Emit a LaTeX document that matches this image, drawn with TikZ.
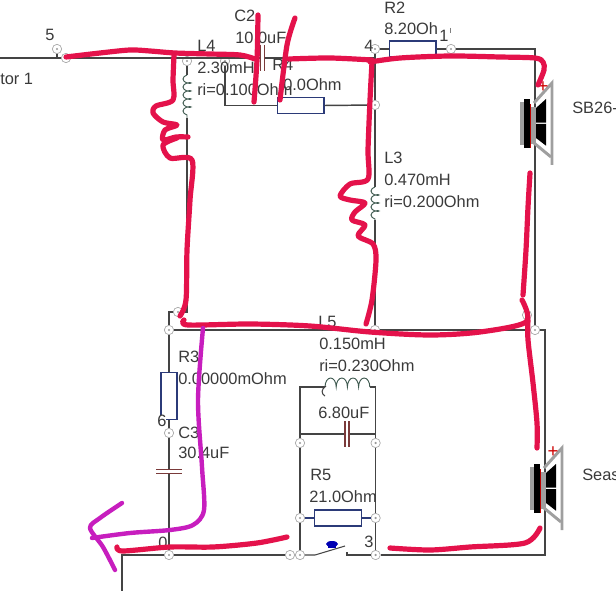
\documentclass[tikz,border=0pt]{standalone}
\usepackage{fontspec}
\setmainfont{Liberation Sans}
\usetikzlibrary{decorations.pathmorphing}
\definecolor{wirecol}{HTML}{444444}
\definecolor{rescol}{HTML}{2B3A78}
\definecolor{capcol}{HTML}{7A3A3A}
\definecolor{coilcol}{HTML}{3F5A50}
\definecolor{textcol}{HTML}{3A3A3A}
\definecolor{penred}{HTML}{E4124B}
\definecolor{penpurple}{HTML}{C71EBE}
\tikzset{
    wire/.style={draw=wirecol, line width=1.1pt},
    jn/.style={circle, draw=gray!70, fill=white, inner sep=0pt, minimum size=7pt, line width=0.5pt,
        path picture={\fill[gray!80] (path picture bounding box.center) circle (0.9pt);}},
    lbl/.style={anchor=west, inner sep=0pt, text=textcol, font=\fontsize{12.3}{14}\selectfont},
    res/.style={draw=rescol, line width=1pt, fill=white, inner sep=0pt, minimum width=35pt, minimum height=12pt},
    capv/.style={inner sep=0pt, minimum width=2.6pt, minimum height=19pt},
    caph/.style={inner sep=0pt, minimum width=19pt, minimum height=2.6pt},
    capline/.style={draw=capcol, line width=0.9pt},
    coilv/.style={draw=coilcol, line width=0.7pt, decorate,
        decoration={coil, aspect=0.5, segment length=6pt, amplitude=3pt, mirror}},
    pen/.style={draw=penred, line width=3.9pt, line cap=round, line join=round},
    penb/.style={draw=penpurple, line width=3.3pt, line cap=round, line join=round},
    speaker/.pic={
        \fill[gray!75] (-15,-22) rectangle (-11,21);
        \fill[gray!75] (-5,-17) rectangle (1,20);
        \fill[black] (-11,-25) rectangle (-5,24);
        \draw[red!75!black, line width=1pt] (-4.5,-20) -- (-4.5,24);
        \draw[gray!75, line width=2.2pt] (-1,-21) -- (17,-41) -- (17,41);
        \draw[gray!75, line width=2.2pt] (-1,19) -- (16,33);
        \fill[black] (1,-16) -- (11,-25) -- (11,-1.3) -- (1,-1.3) -- cycle;
        \fill[black] (1,0) -- (11,0) -- (11,21.7) -- (1,14) -- cycle;
        \node[inner sep=0pt, text=red!80!black, font=\fontsize{14}{14}\selectfont] (-plus) at (8,-37) {+};
    }
}
\begin{document}
\begin{tikzpicture}[x=0.75pt, y=-0.75pt]
    \useasboundingbox (0,0) rectangle (616,591);

    \coordinate (wl) at (0,58);
    \coordinate (gnd) at (122,591);
    \coordinate (gndc) at (122,555);
    \coordinate (tr) at (535,49);
    \coordinate (cbr) at (545,330);
    \coordinate (cbl) at (545,555);
    \coordinate (n4b) at (375,58);
    \coordinate (tl5) at (300,387);
    \coordinate (tr5) at (375.6,387);
    \coordinate (l5a) at (325,387);
    \coordinate (l5b) at (370,387);
    \coordinate (l4a) at (187,75);
    \coordinate (l4b) at (187,118);
    \coordinate (l3a) at (375,187);
    \coordinate (l3b) at (375,220);
    \coordinate (swa) at (315,555);
    \coordinate (swb) at (345,546);
    \coordinate (swc) at (347,552);
    \coordinate (swd) at (347,555);

    \node[jn] (n5) at (57,49) {};
    \node[jn] (n5b) at (66,58) {};
    \node[jn] (n6) at (187,61) {};
    \node[jn] (n6b) at (225,61) {};
    \node[jn] (n4) at (375,49) {};
    \node[jn] (n1) at (451,49) {};
    \node[jn] (n4c) at (375,105) {};
    \node[jn] (n7) at (178,312) {};
    \node[jn] (n8) at (169,330) {};
    \node[jn] (n9) at (375,330) {};
    \node[jn] (n10) at (535,330) {};
    \node[jn] (n11) at (527,315) {};
    \node[jn] (n12) at (169,433) {};
    \node[jn] (n0) at (169,555) {};
    \node[jn] (n13) at (290,555) {};
    \node[jn] (n14) at (300,555) {};
    \node[jn] (n15) at (300,443) {};
    \node[jn] (n16) at (375.6,443) {};
    \node[jn] (n17) at (300,518) {};
    \node[jn] (n18) at (375.6,518) {};
    \node[jn] (n3) at (375.6,555) {};

    \node[res] (R2) at (412.5,49) {};
    \node[res] (R4) at (300.5,105.5) {};
    \node[res] (R5) at (338,518) {};
    \node[res, minimum width=12pt, minimum height=35pt] (R3) at (169,396) {};
    \node[capv] (C2) at (262.5,58) {};
    \node[caph] (C3) at (169,471.5) {};
    \node[capv] (C5) at (347,434) {};

    \draw[wire] (wl) -- (n5b);
    \draw[wire] (n5) -- (n5 |- wl);
    \draw[wire] (n5b) -- (C2.west);
    \draw[wire] (C2.east) -- (n4b);
    \draw[wire] (n6) -- (l4a);
    \draw[wire] (l4b) |- (n7);
    \draw[wire] (n7) -| (n8);
    \draw[wire] (n6b) |- (R4.west);
    \draw[wire] (R4.east) -- (n4c);
    \draw[wire] (n4) -- (R2.west);
    \draw[wire] (R2.east) -- (n1);
    \draw[wire] (n1) -- (tr) -- (n10);
    \draw[wire] (n4) -- (n4c);
    \draw[wire] (n4c) -- (l3a);
    \draw[wire] (l3b) -- (n9);
    \draw[wire] (n8) -- (n9);
    \draw[wire] (n9) -- (n10);
    \draw[wire] (n10) -- (cbr) -- (cbl) -- (n3);
    \draw[wire] (n8) -- (R3.north);
    \draw[wire] (R3.south) -- (n12);
    \draw[wire] (n12) -- (C3.north);
    \draw[wire] (C3.south) -- (n0);
    \draw[wire] (gnd) -- (gndc) -- (n0);
    \draw[wire] (n0) -- (n13);
    \draw[wire] (n13) -- (n14);
    \draw[wire] (n14) -- (n17);
    \draw[wire] (n17) -- (n15);
    \draw[wire] (n15) -- (tl5) -- (l5a);
    \draw[wire] (l5b) -- (tr5) -- (n16);
    \draw[wire] (n16) -- (n18);
    \draw[wire] (n18) -- (n3);
    \draw[wire] (n15 |- C5) -- (C5.west);
    \draw[wire] (C5.east) -- (n16 |- C5);
    \draw[wire, draw=rescol] (n17) -- (R5.west);
    \draw[wire, draw=rescol] (R5.east) -- (n18);
    \draw[wire, line width=0.8pt] (n14) -- (swa) -- (swb);
    \draw[wire, line width=0.8pt] (swc) -- (swd) -- (n3);
    \draw[wire, line width=0.6pt, draw=gray] (450,28) -- (450,33);

    \draw[capline] (C2.north west) -- (C2.south west);
    \draw[capline] (C2.north east) -- (C2.south east);
    \draw[capline] (C3.north west) -- (C3.north east);
    \draw[capline] (C3.south west) -- (C3.south east);
    \draw[capline] (C5.north west) -- (C5.south west);
    \draw[capline] (C5.north east) -- (C5.south east);

    \draw[coilv] (l4a) -- (l4b);
    \draw[coilv] (l3a) -- (l3b);
    \draw[draw=coilcol, line width=0.7pt] (l5a) \foreach \i in {1,...,4} {arc (180:360:5.6 and 9)};
    \draw[wirecol, line width=0.8pt] (326,386) .. controls (321,389) and (321,394) .. (325,396);

    \fill[blue!70!black] (332,544) ellipse (6 and 3);
    \fill[blue!70!black] (328,544) rectangle (336,548);

    \pic (spkA) at (535,124) {speaker};
    \pic (spkB) at (545,489) {speaker};

    \node[lbl, fill=white] (t6) at (157,421) {6};

    \node[lbl] (t5) at (45,35) {5};
    \node[lbl] (tdrv) at (0,79) {tor 1};
    \node[lbl] (tC2) at (234,16) {C2};
    \node[lbl] (tC2v) at (235,38) {10.0uF};
    \node[lbl] (tL4) at (197,46) {L4};
    \node[lbl] (tL4v) at (197,68) {2.30mH};
    \node[lbl] (tL4r) at (197,90) {ri=0.100Ohm};
    \node[lbl] (tR4) at (272,65) {R4};
    \node[lbl] (tR4v) at (283,85) {0.0Ohm};
    \node[lbl] (tR2) at (384,8) {R2};
    \node[lbl] (tR2v) at (384,29) {8.20Oh};
    \node[lbl] (t1) at (439,36) {1};
    \node[lbl] (t4) at (364,46) {4};
    \node[lbl] (tL3) at (384,158) {L3};
    \node[lbl] (tL3v) at (384,180) {0.470mH};
    \node[lbl] (tL3r) at (384,202) {ri=0.200Ohm};
    \node[lbl] (tSB) at (572,108) {SB26-};
    \node[lbl] (tL5) at (318,322) {L5};
    \node[lbl] (tL5v) at (319,344) {0.150mH};
    \node[lbl] (tL5r) at (319,366) {ri=0.230Ohm};
    \node[lbl] (tC5v) at (318,413) {6.80uF};
    \node[lbl] (tR5) at (310,475) {R5};
    \node[lbl] (tR5v) at (309,497) {21.0Ohm};
    \node[lbl] (t3) at (364,542) {3};
    \node[lbl] (tSeas) at (582,475) {Seas};
    \node[lbl] (tR3) at (178,357) {R3};
    \node[lbl] (tR3v) at (178,379) {0.00000mOhm};
    \node[lbl] (tC3) at (178,433) {C3};
    \node[lbl] (tC3v) at (178,453) {30.4uF};
    \node[lbl] (t0) at (158,543) {0};

    \draw[pen] plot[smooth] coordinates {(66,57) (100,53) (130,50) (150,51) (175,53) (210,54) (240,55) (255,59)};
    \draw[pen] plot[smooth] coordinates {(258,15) (257,60) (254,102)};
    \draw[pen] plot[smooth] coordinates {(295,18) (287,45) (280,100)};
    \draw[pen] plot[smooth] coordinates {(289,59) (330,58) (372,60)};
    \draw[pen] plot[smooth] coordinates {(370,62) (400,58) (450,56) (500,57) (535,58) (543,62) (544,70) (538,85)};
    \draw[pen] plot[smooth] coordinates {(174,55) (173,80) (173,100) (156,106) (153,113) (163,122) (177,125) (165,130) (163,140) (176,137) (188,137)};
    \draw[pen] plot[smooth] coordinates {(177,138) (163,145) (170,158) (192,160) (190,200) (187,250) (186,300) (180,316)};
    \draw[pen] plot[smooth] coordinates {(372,62) (370,100) (368,150) (368,179) (350,184) (340,196) (350,200) (365,203) (355,212) (352,220) (365,225) (358,236) (373,244) (376,260) (372,300) (366,324)};
    \draw[pen] plot[smooth] coordinates {(184,320) (188,325) (250,324) (310,326) (370,332) (430,335) (480,332) (526,322) (522,300)};
    \draw[pen] plot[smooth] coordinates {(530,173) (528,207) (526,250) (523,295)};
    \draw[pen] plot[smooth] coordinates {(528,320) (528,340) (533,383) (537,423) (537,448)};
    \draw[pen] plot[smooth] coordinates {(390,548) (430,550) (470,547) (525,543) (540,528)};
    \draw[pen] plot[smooth] coordinates {(117,547) (123,551) (170,547) (213,547) (257,543) (287,537)};

    \draw[penb] plot[smooth] coordinates {(203,328) (198,400) (202,467) (204,510) (193,525) (170,530) (130,533) (92,538)};
    \draw[penb] plot[smooth] coordinates {(122,503) (100,518) (90,528) (103,547) (115,570)};
\end{tikzpicture}
\end{document}
